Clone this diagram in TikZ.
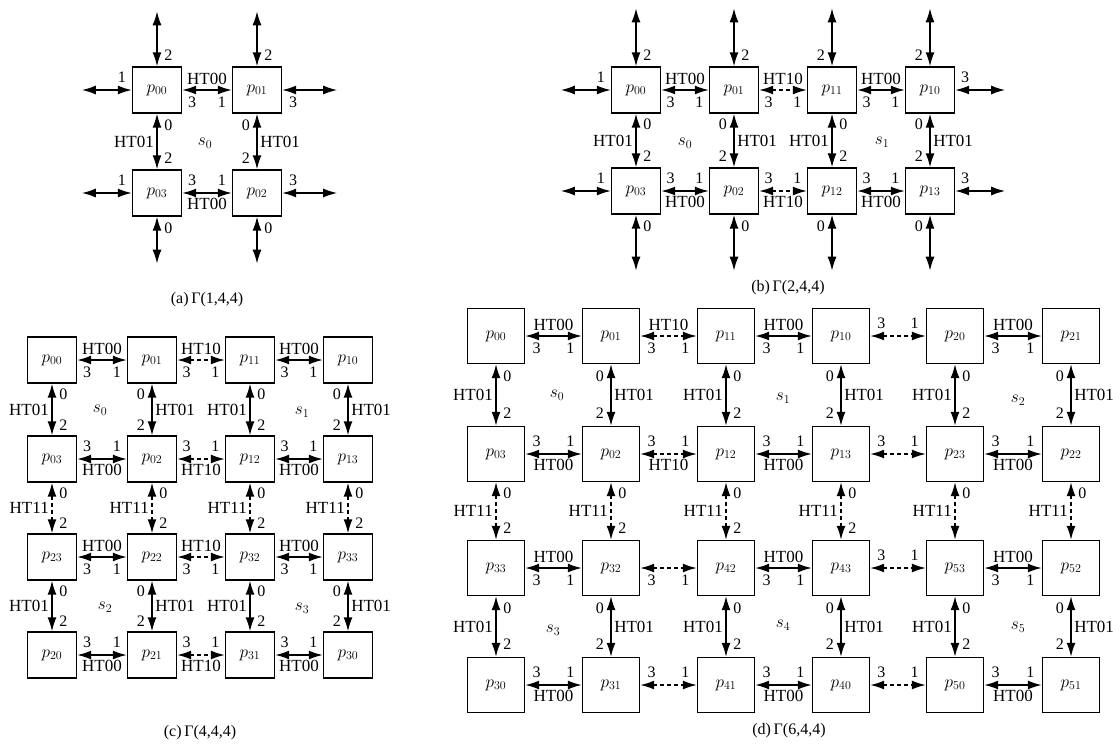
\documentclass[tikz,border=0pt]{standalone}
\usepackage{fontspec}
\setmainfont{Liberation Serif}
\usetikzlibrary{arrows.meta,positioning}

\begin{document}
\begin{tikzpicture}[x=1pt, y=-1pt,
  proc/.style={draw, line width=1.4pt, minimum width=49pt, minimum height=46pt, inner sep=0pt, font=\fontsize{18}{18}\selectfont},
  procbig/.style={proc, minimum width=57pt, minimum height=55pt},
  link/.style={{Latex[length=14pt,width=9pt]}-{Latex[length=14pt,width=9pt]}, line width=1.5pt},
  cross/.style={link, dash pattern=on 4pt off 3pt},
  port/.style={font=\fontsize{16}{16}\selectfont, inner sep=1.5pt},
  ht/.style={font=\fontsize{17}{17}\selectfont, inner sep=1.5pt},
  sys/.style={font=\fontsize{17}{17}\selectfont},
  caption/.style={font=\fontsize{16}{16}\selectfont}
]
\useasboundingbox (0,0) rectangle (1113,748);

% --------- (a) GAMMA(1,4,4) ----------
\node[proc] (a00) at (157,90) {$p_{00}$};
\node[proc] (a01) at (257,90) {$p_{01}$};
\node[proc] (a03) at (157,193) {$p_{03}$};
\node[proc] (a02) at (257,193) {$p_{02}$};

% free ends
\coordinate[above=55pt of a00] (a00t);
\coordinate[above=55pt of a01] (a01t);
\coordinate[left=50pt of a00] (a00l);
\coordinate[left=50pt of a03] (a03l);
\coordinate[right=55pt of a01] (a01r);
\coordinate[right=55pt of a02] (a02r);
\coordinate[below=47pt of a03] (a03b);
\coordinate[below=47pt of a02] (a02b);

\draw[link] (a00t) -- node[pos=0.8, right=5pt, port]{2} (a00);
\draw[link] (a01t) -- node[pos=0.8, right=5pt, port]{2} (a01);
\draw[link] (a00l) -- node[pos=0.8, above=5pt, port]{1} (a00);
\draw[link] (a03l) -- node[pos=0.8, above=5pt, port]{1} (a03);
\draw[link] (a01) -- node[pos=0.2, below=5pt, port]{3} (a01r);
\draw[link] (a02) -- node[pos=0.2, above=5pt, port]{3} (a02r);
\draw[link] (a03) -- node[pos=0.24, right=5pt, port]{0} (a03b);
\draw[link] (a02) -- node[pos=0.24, right=5pt, port]{0} (a02b);

\draw[link] (a00) -- node[above=3pt, ht]{HT00} node[pos=0.2, below=5pt, port]{3} node[pos=0.8, below=5pt, port]{1} (a01);
\draw[link] (a03) -- node[below=3pt, ht]{HT00} node[pos=0.2, above=5pt, port]{3} node[pos=0.8, above=5pt, port]{1} (a02);
\draw[link] (a00) -- node[left=1pt, ht]{HT01} node[pos=0.2, right=5pt, port]{0} node[pos=0.8, right=5pt, port]{2} (a03);
\draw[link] (a01) -- node[right=1pt, ht]{HT01} node[pos=0.2, left=5pt, port]{0} node[pos=0.8, left=5pt, port]{2} (a02);

\node[sys] (sa0) at (205,143) {$s_0$};
\node[caption] (capa) at (207,300) {(a)\,Γ(1,4,4)};

% --------- (b) GAMMA(2,4,4) ----------
\node[proc] (b00) at (636,90) {$p_{00}$};
\node[proc] (b01) at (734,90) {$p_{01}$};
\node[proc] (b11) at (832,90) {$p_{11}$};
\node[proc] (b10) at (930,90) {$p_{10}$};
\node[proc] (b03) at (636,191) {$p_{03}$};
\node[proc] (b02) at (734,191) {$p_{02}$};
\node[proc] (b12) at (832,191) {$p_{12}$};
\node[proc] (b13) at (930,191) {$p_{13}$};

% free ends
\coordinate[above=58pt of b00] (b00t);
\coordinate[above=58pt of b01] (b01t);
\coordinate[above=58pt of b11] (b11t);
\coordinate[above=58pt of b10] (b10t);
\coordinate[below=56pt of b03] (b03b);
\coordinate[below=56pt of b02] (b02b);
\coordinate[below=56pt of b12] (b12b);
\coordinate[below=56pt of b13] (b13b);
\coordinate[left=50pt of b00] (b00l);
\coordinate[left=50pt of b03] (b03l);
\coordinate[right=50pt of b10] (b10r);
\coordinate[right=50pt of b13] (b13r);

\draw[link] (b00t) -- node[pos=0.8, right=5pt, port]{2} (b00);
\draw[link] (b01t) -- node[pos=0.8, right=5pt, port]{2} (b01);
\draw[link] (b11t) -- node[pos=0.8, left=5pt, port]{2} (b11);
\draw[link] (b10t) -- node[pos=0.8, left=5pt, port]{2} (b10);
\draw[link] (b03) -- node[pos=0.2, right=5pt, port]{0} (b03b);
\draw[link] (b02) -- node[pos=0.2, right=5pt, port]{0} (b02b);
\draw[link] (b12) -- node[pos=0.2, left=5pt, port]{0} (b12b);
\draw[link] (b13) -- node[pos=0.2, left=5pt, port]{0} (b13b);
\draw[link] (b00l) -- node[pos=0.8, above=5pt, port]{1} (b00);
\draw[link] (b03l) -- node[pos=0.8, above=5pt, port]{1} (b03);
\draw[link] (b10) -- node[pos=0.2, above=5pt, port]{3} (b10r);
\draw[link] (b13) -- node[pos=0.2, above=5pt, port]{3} (b13r);

\draw[link] (b00) -- node[above=3pt, ht]{HT00} node[pos=0.2, below=5pt, port]{3} node[pos=0.8, below=5pt, port]{1} (b01);
\draw[cross] (b01) -- node[above=3pt, ht]{HT10} node[pos=0.2, below=5pt, port]{3} node[pos=0.8, below=5pt, port]{1} (b11);
\draw[link] (b11) -- node[above=3pt, ht]{HT00} node[pos=0.2, below=5pt, port]{3} node[pos=0.8, below=5pt, port]{1} (b10);
\draw[link] (b03) -- node[below=3pt, ht]{HT00} node[pos=0.2, above=5pt, port]{3} node[pos=0.8, above=5pt, port]{1} (b02);
\draw[cross] (b02) -- node[below=3pt, ht]{HT10} node[pos=0.2, above=5pt, port]{3} node[pos=0.8, above=5pt, port]{1} (b12);
\draw[link] (b12) -- node[below=3pt, ht]{HT00} node[pos=0.2, above=5pt, port]{3} node[pos=0.8, above=5pt, port]{1} (b13);

\draw[link] (b00) -- node[left=1pt, ht]{HT01} node[pos=0.2, right=5pt, port]{0} node[pos=0.8, right=5pt, port]{2} (b03);
\draw[link] (b01) -- node[right=1pt, ht]{HT01} node[pos=0.2, left=5pt, port]{0} node[pos=0.8, left=5pt, port]{2} (b02);
\draw[link] (b11) -- node[left=1pt, ht]{HT01} node[pos=0.2, right=5pt, port]{0} node[pos=0.8, right=5pt, port]{2} (b12);
\draw[link] (b10) -- node[right=1pt, ht]{HT01} node[pos=0.2, left=5pt, port]{0} node[pos=0.8, left=5pt, port]{2} (b13);

\node[sys] (sb0) at (685,143) {$s_0$};
\node[sys] (sb1) at (882,142) {$s_1$};
\node[caption] (capb) at (788,288) {(b)\,Γ(2,4,4)};

% --------- (c) GAMMA(4,4,4) ----------
\node[proc] (c00) at (52,360) {$p_{00}$};
\node[proc] (c01) at (152,360) {$p_{01}$};
\node[proc] (c11) at (250,360) {$p_{11}$};
\node[proc] (c10) at (348,360) {$p_{10}$};
\node[proc] (c03) at (52,459) {$p_{03}$};
\node[proc] (c02) at (152,459) {$p_{02}$};
\node[proc] (c12) at (250,459) {$p_{12}$};
\node[proc] (c13) at (348,459) {$p_{13}$};
\node[proc] (c23) at (52,557) {$p_{23}$};
\node[proc] (c22) at (152,557) {$p_{22}$};
\node[proc] (c32) at (250,557) {$p_{32}$};
\node[proc] (c33) at (348,557) {$p_{33}$};
\node[proc] (c20) at (52,655) {$p_{20}$};
\node[proc] (c21) at (152,655) {$p_{21}$};
\node[proc] (c31) at (250,655) {$p_{31}$};
\node[proc] (c30) at (348,655) {$p_{30}$};

% rows
\draw[link] (c00) -- node[above=3pt, ht]{HT00} node[pos=0.2, below=5pt, port]{3} node[pos=0.8, below=5pt, port]{1} (c01);
\draw[cross] (c01) -- node[above=3pt, ht]{HT10} node[pos=0.2, below=5pt, port]{3} node[pos=0.8, below=5pt, port]{1} (c11);
\draw[link] (c11) -- node[above=3pt, ht]{HT00} node[pos=0.2, below=5pt, port]{3} node[pos=0.8, below=5pt, port]{1} (c10);
\draw[link] (c03) -- node[below=3pt, ht]{HT00} node[pos=0.2, above=5pt, port]{3} node[pos=0.8, above=5pt, port]{1} (c02);
\draw[cross] (c02) -- node[below=3pt, ht]{HT10} node[pos=0.2, above=5pt, port]{3} node[pos=0.8, above=5pt, port]{1} (c12);
\draw[link] (c12) -- node[below=3pt, ht]{HT00} node[pos=0.2, above=5pt, port]{3} node[pos=0.8, above=5pt, port]{1} (c13);
\draw[link] (c23) -- node[above=3pt, ht]{HT00} node[pos=0.2, below=5pt, port]{3} node[pos=0.8, below=5pt, port]{1} (c22);
\draw[cross] (c22) -- node[above=3pt, ht]{HT10} node[pos=0.2, below=5pt, port]{3} node[pos=0.8, below=5pt, port]{1} (c32);
\draw[link] (c32) -- node[above=3pt, ht]{HT00} node[pos=0.2, below=5pt, port]{3} node[pos=0.8, below=5pt, port]{1} (c33);
\draw[link] (c20) -- node[below=3pt, ht]{HT00} node[pos=0.2, above=5pt, port]{3} node[pos=0.8, above=5pt, port]{1} (c21);
\draw[cross] (c21) -- node[below=3pt, ht]{HT10} node[pos=0.2, above=5pt, port]{3} node[pos=0.8, above=5pt, port]{1} (c31);
\draw[link] (c31) -- node[below=3pt, ht]{HT00} node[pos=0.2, above=5pt, port]{3} node[pos=0.8, above=5pt, port]{1} (c30);

% columns
\draw[link] (c00) -- node[left=1pt, ht]{HT01} node[pos=0.2, right=5pt, port]{0} node[pos=0.8, right=5pt, port]{2} (c03);
\draw[link] (c01) -- node[right=1pt, ht]{HT01} node[pos=0.2, left=5pt, port]{0} node[pos=0.8, left=5pt, port]{2} (c02);
\draw[link] (c11) -- node[left=1pt, ht]{HT01} node[pos=0.2, right=5pt, port]{0} node[pos=0.8, right=5pt, port]{2} (c12);
\draw[link] (c10) -- node[right=1pt, ht]{HT01} node[pos=0.2, left=5pt, port]{0} node[pos=0.8, left=5pt, port]{2} (c13);
\draw[cross] (c03) -- node[left=1pt, ht]{HT11} node[pos=0.2, right=5pt, port]{0} node[pos=0.8, right=5pt, port]{2} (c23);
\draw[cross] (c02) -- node[left=1pt, ht]{HT11} node[pos=0.2, right=5pt, port]{0} node[pos=0.8, right=5pt, port]{2} (c22);
\draw[cross] (c12) -- node[left=1pt, ht]{HT11} node[pos=0.2, right=5pt, port]{0} node[pos=0.8, right=5pt, port]{2} (c32);
\draw[cross] (c13) -- node[left=1pt, ht]{HT11} node[pos=0.2, right=5pt, port]{0} node[pos=0.8, right=5pt, port]{2} (c33);
\draw[link] (c23) -- node[left=1pt, ht]{HT01} node[pos=0.2, right=5pt, port]{0} node[pos=0.8, right=5pt, port]{2} (c20);
\draw[link] (c22) -- node[right=1pt, ht]{HT01} node[pos=0.2, left=5pt, port]{0} node[pos=0.8, left=5pt, port]{2} (c21);
\draw[link] (c32) -- node[left=1pt, ht]{HT01} node[pos=0.2, right=5pt, port]{0} node[pos=0.8, right=5pt, port]{2} (c31);
\draw[link] (c33) -- node[right=1pt, ht]{HT01} node[pos=0.2, left=5pt, port]{0} node[pos=0.8, left=5pt, port]{2} (c30);

\node[sys] (sc0) at (100,410) {$s_0$};
\node[sys] (sc1) at (302,412) {$s_1$};
\node[sys] (sc2) at (105,607) {$s_2$};
\node[sys] (sc3) at (302,608) {$s_3$};
\node[caption] (capc) at (200,733) {(c)\,Γ(4,4,4)};

% --------- (d) GAMMA(6,4,4) ----------
\node[procbig] (d00) at (496,336) {$p_{00}$};
\node[procbig] (d01) at (611,336) {$p_{01}$};
\node[procbig] (d11) at (726,336) {$p_{11}$};
\node[procbig] (d10) at (841,336) {$p_{10}$};
\node[procbig] (d20) at (955,336) {$p_{20}$};
\node[procbig] (d21) at (1071,336) {$p_{21}$};
\node[procbig] (d03) at (496,454) {$p_{03}$};
\node[procbig] (d02) at (611,454) {$p_{02}$};
\node[procbig] (d12) at (726,454) {$p_{12}$};
\node[procbig] (d13) at (841,454) {$p_{13}$};
\node[procbig] (d23) at (955,454) {$p_{23}$};
\node[procbig] (d22) at (1071,454) {$p_{22}$};
\node[procbig] (d33) at (496,568) {$p_{33}$};
\node[procbig] (d32) at (611,568) {$p_{32}$};
\node[procbig] (d42) at (726,568) {$p_{42}$};
\node[procbig] (d43) at (841,568) {$p_{43}$};
\node[procbig] (d53) at (955,568) {$p_{53}$};
\node[procbig] (d52) at (1071,568) {$p_{52}$};
\node[procbig] (d30) at (496,685) {$p_{30}$};
\node[procbig] (d31) at (611,685) {$p_{31}$};
\node[procbig] (d41) at (726,685) {$p_{41}$};
\node[procbig] (d40) at (841,685) {$p_{40}$};
\node[procbig] (d50) at (955,685) {$p_{50}$};
\node[procbig] (d51) at (1071,685) {$p_{51}$};

% rows
\draw[link] (d00) -- node[above=3pt, ht]{HT00} node[pos=0.2, below=5pt, port]{3} node[pos=0.8, below=5pt, port]{1} (d01);
\draw[cross] (d01) -- node[above=3pt, ht]{HT10} node[pos=0.2, below=5pt, port]{3} node[pos=0.8, below=5pt, port]{1} (d11);
\draw[link] (d11) -- node[above=3pt, ht]{HT00} node[pos=0.2, below=5pt, port]{3} node[pos=0.8, below=5pt, port]{1} (d10);
\draw[cross] (d10) -- node[pos=0.2, above=5pt, port]{3} node[pos=0.8, above=5pt, port]{1} (d20);
\draw[link] (d20) -- node[above=3pt, ht]{HT00} node[pos=0.2, below=5pt, port]{3} node[pos=0.8, below=5pt, port]{1} (d21);

\draw[link] (d03) -- node[below=3pt, ht]{HT00} node[pos=0.2, above=5pt, port]{3} node[pos=0.8, above=5pt, port]{1} (d02);
\draw[cross] (d02) -- node[below=3pt, ht]{HT10} node[pos=0.2, above=5pt, port]{3} node[pos=0.8, above=5pt, port]{1} (d12);
\draw[link] (d12) -- node[below=3pt, ht]{HT00} node[pos=0.2, above=5pt, port]{3} node[pos=0.8, above=5pt, port]{1} (d13);
\draw[cross] (d13) -- node[pos=0.2, above=5pt, port]{3} node[pos=0.8, above=5pt, port]{1} (d23);
\draw[link] (d23) -- node[below=3pt, ht]{HT00} node[pos=0.2, above=5pt, port]{3} node[pos=0.8, above=5pt, port]{1} (d22);

\draw[link] (d33) -- node[above=3pt, ht]{HT00} node[pos=0.2, below=5pt, port]{3} node[pos=0.8, below=5pt, port]{1} (d32);
\draw[cross] (d32) -- node[pos=0.2, below=5pt, port]{3} node[pos=0.8, below=5pt, port]{1} (d42);
\draw[link] (d42) -- node[above=3pt, ht]{HT00} node[pos=0.2, below=5pt, port]{3} node[pos=0.8, below=5pt, port]{1} (d43);
\draw[cross] (d43) -- node[pos=0.2, above=5pt, port]{3} node[pos=0.8, above=5pt, port]{1} (d53);
\draw[link] (d53) -- node[above=3pt, ht]{HT00} node[pos=0.2, below=5pt, port]{3} node[pos=0.8, below=5pt, port]{1} (d52);

\draw[link] (d30) -- node[below=3pt, ht]{HT00} node[pos=0.2, above=5pt, port]{3} node[pos=0.8, above=5pt, port]{1} (d31);
\draw[cross] (d31) -- node[pos=0.2, above=5pt, port]{3} node[pos=0.8, above=5pt, port]{1} (d41);
\draw[link] (d41) -- node[below=3pt, ht]{HT00} node[pos=0.2, above=5pt, port]{3} node[pos=0.8, above=5pt, port]{1} (d40);
\draw[cross] (d40) -- node[pos=0.2, above=5pt, port]{3} node[pos=0.8, above=5pt, port]{1} (d50);
\draw[link] (d50) -- node[below=3pt, ht]{HT00} node[pos=0.2, above=5pt, port]{3} node[pos=0.8, above=5pt, port]{1} (d51);

% columns
\draw[link] (d00) -- node[left=1pt, ht]{HT01} node[pos=0.2, right=5pt, port]{0} node[pos=0.8, right=5pt, port]{2} (d03);
\draw[link] (d01) -- node[right=1pt, ht]{HT01} node[pos=0.2, left=5pt, port]{0} node[pos=0.8, left=5pt, port]{2} (d02);
\draw[link] (d11) -- node[left=1pt, ht]{HT01} node[pos=0.2, right=5pt, port]{0} node[pos=0.8, right=5pt, port]{2} (d12);
\draw[link] (d10) -- node[right=1pt, ht]{HT01} node[pos=0.2, left=5pt, port]{0} node[pos=0.8, left=5pt, port]{2} (d13);
\draw[link] (d20) -- node[left=1pt, ht]{HT01} node[pos=0.2, right=5pt, port]{0} node[pos=0.8, right=5pt, port]{2} (d23);
\draw[link] (d21) -- node[right=1pt, ht]{HT01} node[pos=0.2, left=5pt, port]{0} node[pos=0.8, left=5pt, port]{2} (d22);

\draw[cross] (d03) -- node[left=1pt, ht]{HT11} node[pos=0.2, right=5pt, port]{0} node[pos=0.8, right=5pt, port]{2} (d33);
\draw[cross] (d02) -- node[left=1pt, ht]{HT11} node[pos=0.2, right=5pt, port]{0} node[pos=0.8, right=5pt, port]{2} (d32);
\draw[cross] (d12) -- node[left=1pt, ht]{HT11} node[pos=0.2, right=5pt, port]{0} node[pos=0.8, right=5pt, port]{2} (d42);
\draw[cross] (d13) -- node[left=1pt, ht]{HT11} node[pos=0.2, right=5pt, port]{0} node[pos=0.8, right=5pt, port]{2} (d43);
\draw[cross] (d23) -- node[left=1pt, ht]{HT11} node[pos=0.2, right=5pt, port]{0} (d53);
\draw[cross] (d22) -- node[left=1pt, ht]{HT11} node[pos=0.2, right=5pt, port]{0} (d52);

\draw[link] (d33) -- node[left=1pt, ht]{HT01} node[pos=0.2, right=5pt, port]{0} node[pos=0.8, right=5pt, port]{2} (d30);
\draw[link] (d32) -- node[right=1pt, ht]{HT01} node[pos=0.2, left=5pt, port]{0} node[pos=0.8, left=5pt, port]{2} (d31);
\draw[link] (d42) -- node[left=1pt, ht]{HT01} node[pos=0.2, right=5pt, port]{0} node[pos=0.8, right=5pt, port]{2} (d41);
\draw[link] (d43) -- node[right=1pt, ht]{HT01} node[pos=0.2, left=5pt, port]{0} node[pos=0.8, left=5pt, port]{2} (d40);
\draw[link] (d53) -- node[left=1pt, ht]{HT01} node[pos=0.2, right=5pt, port]{0} node[pos=0.8, right=5pt, port]{2} (d50);
\draw[link] (d52) -- node[right=1pt, ht]{HT01} node[pos=0.2, left=5pt, port]{0} node[pos=0.8, left=5pt, port]{2} (d51);

\node[sys] (sd0) at (557,395) {$s_0$};
\node[sys] (sd1) at (783,398) {$s_1$};
\node[sys] (sd2) at (1018,400) {$s_2$};
\node[sys] (sd3) at (553,630) {$s_3$};
\node[sys] (sd4) at (783,625) {$s_4$};
\node[sys] (sd5) at (1018,627) {$s_5$};
\node[caption] (capd) at (789,731) {(d)\,Γ(6,4,4)};

\end{tikzpicture}
\end{document}
